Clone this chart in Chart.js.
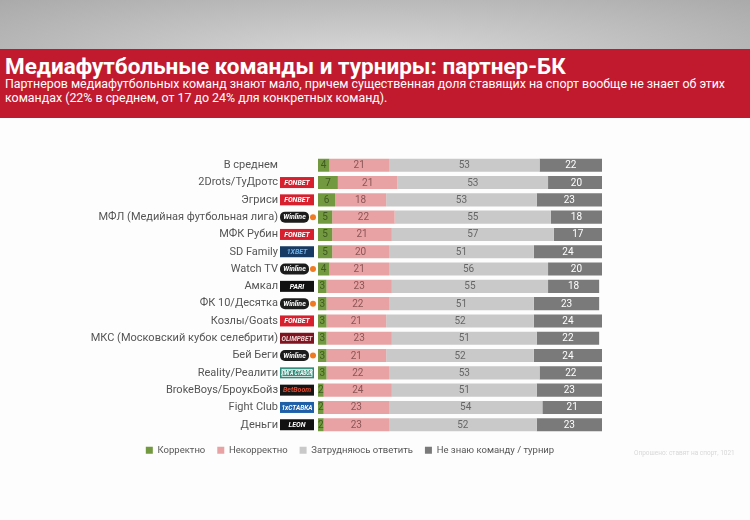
<!DOCTYPE html>
<html lang="ru">
<head>
  <meta charset="UTF-8">
  <title>Медиафутбольные команды и турниры: партнер-БК</title>
  <script src="https://cdn.jsdelivr.net/npm/chart.js"></script>
  <style>
    body {
      margin: 0;
      width: 750px;
      height: 520px;
      background: #fdfdfd;
      font-family: 'Roboto', 'DejaVu Sans', sans-serif;
      position: relative;
      overflow: hidden;
    }

    #topband {
      position: absolute;
      left: 0; top: 0;
      width: 750px; height: 49px;
      background: radial-gradient(ellipse 520px 90px at 375px 60px, #dadada 0%, #c4c4c4 45%, #a9a9a9 100%);
    }

    #banner {
      position: absolute;
      left: 0; top: 49px;
      width: 750px; height: 69px;
      background: #c11a2f;
      color: #fff;
    }

    #banner h1 {
      margin: 0;
      position: absolute;
      left: 5px; top: 4px;
      font-size: 22.5px;
      font-weight: bold;
    }

    #banner p {
      margin: 0;
      position: absolute;
      left: 5px; top: 28px;
      white-space: nowrap;
      font-size: 12.4px;
      line-height: 14px;
    }

    #chartBox {
      position: absolute;
      left: 0; top: 118px;
      width: 750px; height: 354px;
    }

    #note {
      position: absolute;
      left: 634px; top: 449px;
      font-size: 6.5px;
      color: #d8d8d8;
    }
  </style>
</head>
<body>

<div id="topband"></div>
<div id="banner">
  <h1>Медиафутбольные команды и турниры: партнер-БК</h1>
  <p>Партнеров медиафутбольных команд знают мало, причем существенная доля ставящих на спорт вообще не знает об этих<br>командах (22% в среднем, от 17 до 24% для конкретных команд).</p>
</div>

<div id="chartBox">
  <canvas id="partnerChart" width="750" height="354"></canvas>
</div>
<div id="note">Опрошено: ставят на спорт, 1021</div>

<script>
  var categories = ['В среднем', '2Drots/ТуДротс', 'Эгриси', 'МФЛ (Медийная футбольная лига)', 'МФК Рубин',
    'SD Family', 'Watch TV', 'Амкал', 'ФК 10/Десятка', 'Козлы/Goats', 'МКС (Московский кубок селебрити)',
    'Бей Беги', 'Reality/Реалити', 'BrokeBoys/БроукБойз', 'Fight Club', 'Деньги'];
  var partners = ['', 'FONBET', 'FONBET', 'Winline', 'FONBET', '1XBET', 'Winline', 'PARI', 'Winline',
    'FONBET', 'OLIMPBET', 'Winline', 'ЛИГА СТАВОК', 'BetBoom', '1xСТАВКА', 'LEON'];
  var seriesNames = ['Корректно', 'Некорректно', 'Затрудняюсь ответить', 'Не знаю команду / турнир'];
  var correct = [4, 7, 6, 5, 5, 5, 4, 3, 3, 3, 3, 3, 3, 2, 2, 2];
  var incorrect = [21, 21, 18, 22, 21, 20, 21, 23, 22, 21, 23, 21, 22, 24, 23, 23];
  var unsure = [53, 53, 53, 55, 57, 51, 56, 55, 51, 52, 51, 52, 53, 51, 54, 52];
  var unknown = [22, 20, 23, 18, 17, 24, 20, 18, 23, 24, 22, 24, 22, 23, 21, 23];

  var barColors = ['#72993f', '#e8a2a4', '#c9c9c9', '#7a7a7a'];
  var valueColors = ['#3f5a22', '#8a5555', '#666666', '#ffffff'];

  // logo look per bookmaker
  var logoStyle = {
    'FONBET': { bg: '#d81f2e', fg: '#ffffff' },
    'Winline': { bg: '#1c1c1c', fg: '#ffffff', dot: '#f07a22', round: true },
    '1XBET': { bg: '#163a63', fg: '#6fb3ec' },
    'PARI': { bg: '#111111', fg: '#ffffff' },
    'OLIMPBET': { bg: '#7d1420', fg: '#f2d6d6' },
    'ЛИГА СТАВОК': { bg: '#2d8a78', fg: '#ffffff', frame: true },
    'BetBoom': { bg: '#151515', fg: '#e8492e' },
    '1xСТАВКА': { bg: '#1e5fa8', fg: '#ffffff' },
    'LEON': { bg: '#111111', fg: '#ffffff' }
  };

  var valueLabels = {
    id: 'valueLabels',
    afterDatasetsDraw: function (chart) {
      var ctx = chart.ctx;
      ctx.save();
      ctx.font = '10px Roboto, sans-serif';
      ctx.textAlign = 'center';
      ctx.textBaseline = 'middle';
      chart.data.datasets.forEach(function (ds, di) {
        var meta = chart.getDatasetMeta(di);
        ctx.fillStyle = valueColors[di];
        meta.data.forEach(function (bar, i) {
          var cx = (bar.base + bar.x) / 2;
          ctx.fillText(ds.data[i], cx, bar.y + 0.5);
        });
      });
      ctx.restore();
    }
  };

  var partnerLogos = {
    id: 'partnerLogos',
    afterDraw: function (chart) {
      var ctx = chart.ctx;
      var yScale = chart.scales.y;
      var left = chart.chartArea.left;
      ctx.save();
      partners.forEach(function (name, i) {
        if (!name) return;
        var st = logoStyle[name];
        var y = yScale.getPixelForValue(i);
        var x0 = left - 38, w = 34, h = 11;
        if (st.dot) w = 29;
        ctx.fillStyle = st.bg;
        if (st.round) {
          ctx.beginPath();
          ctx.roundRect(x0, y - h / 2, w, h, 5);
          ctx.fill();
        } else {
          ctx.fillRect(x0, y - h / 2, w, h);
        }
        if (st.frame) {
          ctx.strokeStyle = '#ffffff';
          ctx.lineWidth = 0.8;
          ctx.strokeRect(x0 + 2, y - h / 2 + 2, w - 4, h - 4);
        }
        ctx.fillStyle = st.fg;
        ctx.font = 'italic bold 7px Roboto, sans-serif';
        ctx.textAlign = 'center';
        ctx.textBaseline = 'middle';
        ctx.fillText(name, x0 + w / 2, y + 0.5, w - 3);
        if (st.dot) {
          ctx.fillStyle = st.dot;
          ctx.beginPath();
          ctx.arc(x0 + w + 4, y, 3, 0, Math.PI * 2);
          ctx.fill();
        }
      });
      ctx.restore();
    }
  };

  var seriesData = [correct, incorrect, unsure, unknown];
  var datasets = seriesData.map(function (vals, k) {
    return {
      label: seriesNames[k],
      data: vals,
      backgroundColor: barColors[k],
      borderWidth: 0,
      barPercentage: 1,
      categoryPercentage: 0.76
    };
  });

  var ctx = document.getElementById('partnerChart').getContext('2d');

  var partnerChart = new Chart(ctx, {
    type: 'bar',
    data: { labels: categories, datasets: datasets },
    options: {
      indexAxis: 'y',
      responsive: false,
      animation: false,
      layout: { padding: { left: 0, right: 50, top: 38, bottom: 3 } },
      scales: {
        x: {
          stacked: true,
          display: false,
          min: 0,
          max: 100
        },
        y: {
          stacked: true,
          grid: { display: false },
          border: { display: false },
          ticks: {
            padding: 32,
            color: '#555555',
            font: { family: 'Roboto', size: 11 }
          },
          afterFit: function (scale) { scale.width = 318; }
        },
        // empty right axis keeps the bars narrow while the legend stays centred
        yRight: {
          type: 'category',
          position: 'right',
          grid: { display: false },
          border: { display: false },
          ticks: { display: false },
          afterFit: function (scale) { scale.width = 98; }
        }
      },
      plugins: {
        legend: {
          position: 'bottom',
          labels: {
            boxWidth: 7,
            boxHeight: 7,
            padding: 12,
            color: '#555555',
            font: { family: 'Roboto', size: 9.5 }
          }
        },
        tooltip: { enabled: false }
      }
    },
    plugins: [valueLabels, partnerLogos]
  });
</script>

</body>
</html>
